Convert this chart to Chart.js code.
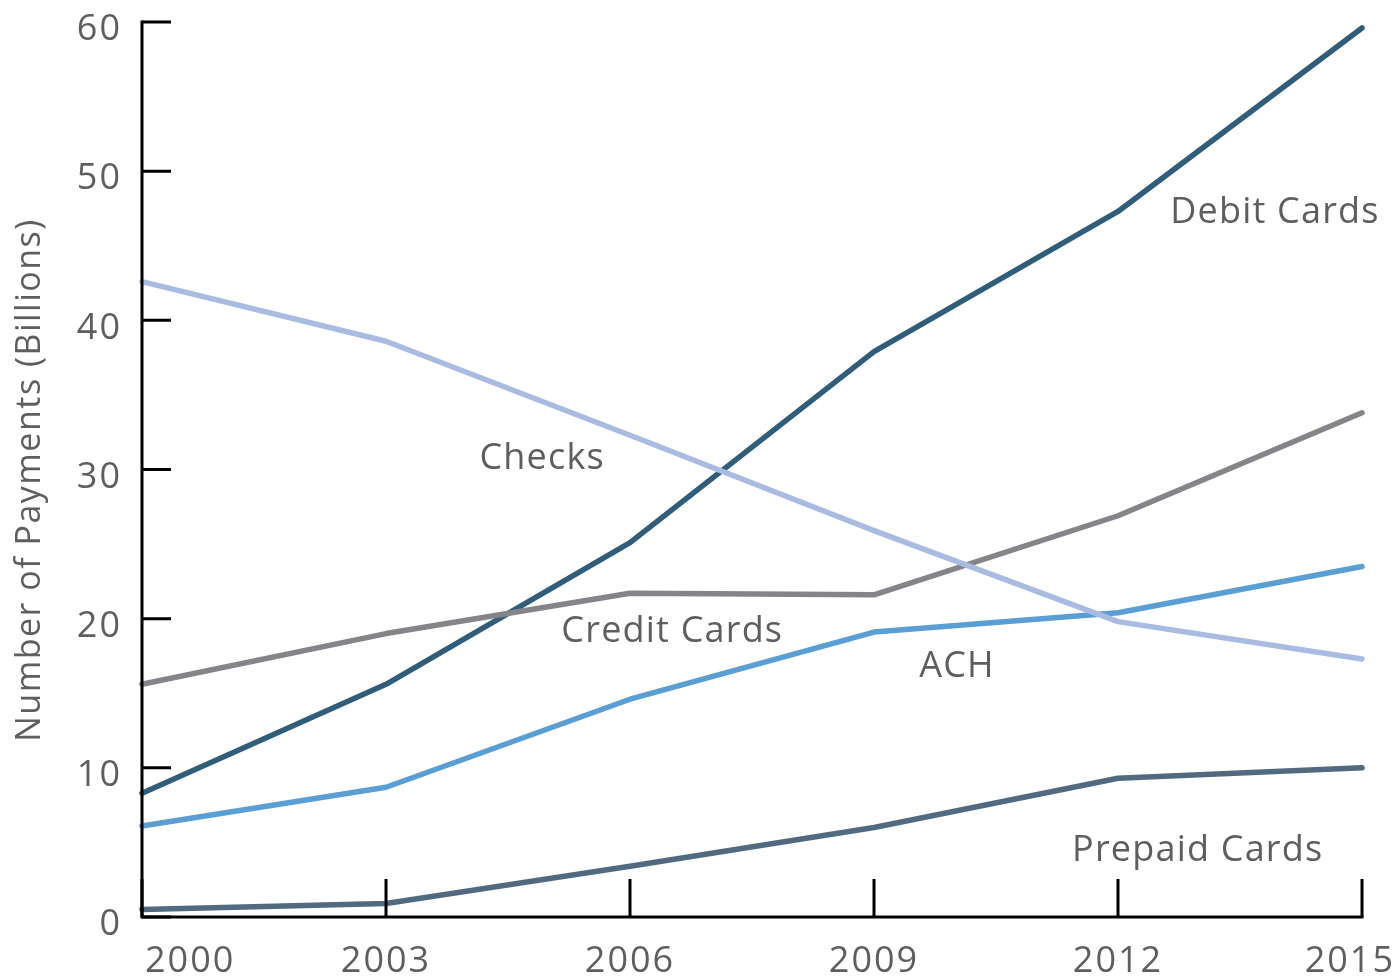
<!DOCTYPE html>
<html lang="en">
<head>
  <meta charset="UTF-8" />
  <title>Number of Payments</title>
  <script src="https://cdn.jsdelivr.net/npm/chart.js"></script>
  <style>
    html, body { margin: 0; padding: 0; background: #fff; }
    #wrap { width: 1397px; height: 977px; position: relative; }
  </style>
</head>
<body>
<div id="wrap"><canvas id="payChart"></canvas></div>
<script>
  const years = [2000, 2003, 2006, 2009, 2012, 2015];
  const debitCards   = [8.3, 15.6, 25.1, 37.9, 47.3, 59.6];
  const checks       = [42.6, 38.6, 32.3, 25.9, 19.8, 17.3];
  const creditCards  = [15.6, 19.0, 21.7, 21.6, 26.9, 33.8];
  const ach          = [6.1, 8.7, 14.6, 19.1, 20.4, 23.5];
  const prepaidCards = [0.5, 0.9, 3.4, 6.0, 9.3, 10.0];
  const yTicks = [0, 10, 20, 30, 40, 50, 60];

  // where the series names sit, in data units
  const seriesLabels = [
    { text: 'Debit Cards',   x: 2013.93, y: 47.2 },
    { text: 'Checks',        x: 2004.92, y: 30.7 },
    { text: 'Credit Cards',  x: 2006.52, y: 19.1 },
    { text: 'ACH',           x: 2010.02, y: 16.75 },
    { text: 'Prepaid Cards', x: 2012.98, y: 4.45 }
  ];

  const FONT = '"Open Sans", "DejaVu Sans", sans-serif';
  const TEXT = '#5e5e60';

  function pts(vals) {
    return years.map((yr, i) => ({ x: yr, y: vals[i] }));
  }
  function series(label, vals, color) {
    return {
      label: label, data: pts(vals), borderColor: color,
      borderWidth: 5.5, pointRadius: 0, fill: false, tension: 0,
      borderCapStyle: 'round', borderJoinStyle: 'round', clip: false
    };
  }

  // draws text centred/left/right with letter spacing taken into account
  function spacedText(c, str, x, y, align) {
    const w = c.measureText(str).width;
    let x0 = x;
    if (align === 'center') x0 = x - w / 2;
    if (align === 'right') x0 = x - w;
    c.textAlign = 'left';
    c.fillText(str, x0, y);
    return w;
  }

  // axes, inward ticks and all text are drawn here from the scales
  const axisPlugin = {
    id: 'axisPlugin',
    afterDraw(chart) {
      const c = chart.ctx;
      const xs = chart.scales.x, ys = chart.scales.y;
      const left = xs.left, right = xs.right, top = ys.top, bottom = ys.bottom;
      c.save();
      c.strokeStyle = '#000';
      c.lineWidth = 3;
      c.beginPath();
      c.moveTo(left, top - 1.5);
      c.lineTo(left, bottom);
      c.lineTo(right + 1.5, bottom);
      c.stroke();

      c.beginPath();
      yTicks.forEach(v => {
        const py = ys.getPixelForValue(v);
        c.moveTo(left, py);
        c.lineTo(left + 29, py);
      });
      years.forEach(yr => {
        const px = xs.getPixelForValue(yr);
        c.moveTo(px, bottom);
        c.lineTo(px, bottom - 38);
      });
      c.stroke();

      c.fillStyle = TEXT;
      c.font = '36px ' + FONT;
      c.letterSpacing = '2px';
      c.textBaseline = 'middle';
      yTicks.forEach(v => {
        spacedText(c, String(v), 122, ys.getPixelForValue(v) + 8, 'right');
      });

      c.textBaseline = 'alphabetic';
      years.forEach(yr => {
        const label = String(yr);
        const w = c.measureText(label).width;
        let x0 = xs.getPixelForValue(yr) - w / 2;
        x0 = Math.max(145, Math.min(x0, 1395 - w));
        c.textAlign = 'left';
        c.fillText(label, x0, 972);
      });

      c.letterSpacing = '1.2px';
      c.textBaseline = 'middle';
      seriesLabels.forEach(s => {
        spacedText(c, s.text, xs.getPixelForValue(s.x), ys.getPixelForValue(s.y), 'center');
      });

      c.font = '34px ' + FONT;
      c.letterSpacing = '1.5px';
      c.translate(30, 480);
      c.rotate(-Math.PI / 2);
      spacedText(c, 'Number of Payments (Billions)', 0, 0, 'center');
      c.restore();
    }
  };

  const ctx = document.getElementById('payChart').getContext('2d');
  new Chart(ctx, {
    type: 'line',
    data: {
      datasets: [
        series('Checks', checks, '#a9bbe1'),
        series('Credit Cards', creditCards, '#858589'),
        series('ACH', ach, '#5a9fd3'),
        series('Prepaid Cards', prepaidCards, '#526a80'),
        series('Debit Cards', debitCards, '#2f5d7a')
      ]
    },
    options: {
      responsive: true,
      maintainAspectRatio: false,
      animation: false,
      layout: { padding: { left: 142, top: 22, right: 35, bottom: 60 } },
      plugins: { legend: { display: false }, tooltip: { enabled: false } },
      scales: {
        x: { type: 'linear', min: 2000, max: 2015, display: false },
        y: { min: 0, max: 60, display: false }
      }
    },
    plugins: [axisPlugin]
  });
</script>
</body>
</html>
